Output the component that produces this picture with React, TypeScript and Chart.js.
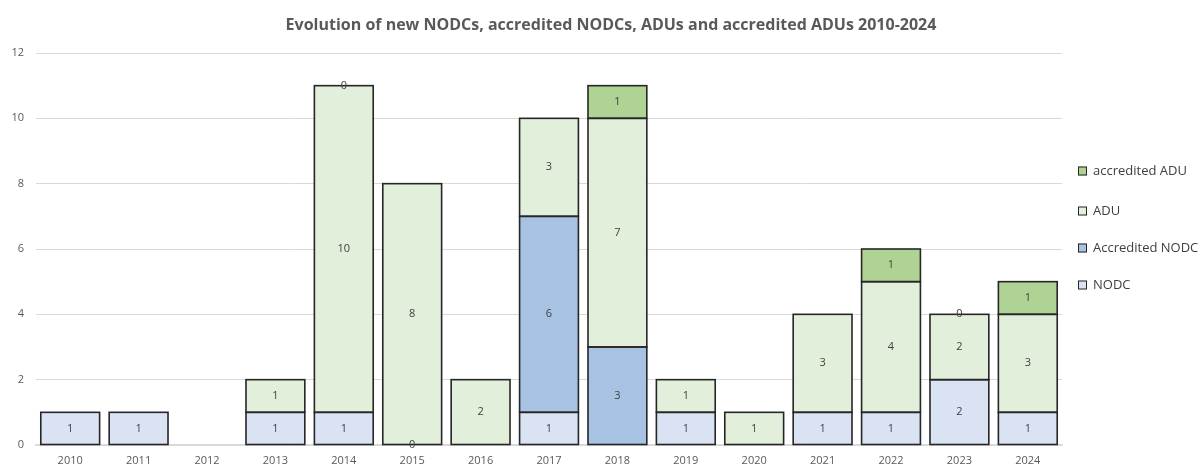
import React, { useEffect, useRef } from "react";
import { Chart, registerables } from "chart.js";

Chart.register(...registerables);

const years = ["2010","2011","2012","2013","2014","2015","2016","2017","2018","2019","2020","2021","2022","2023","2024"];
const nodc: (number | null)[] = [1, 1, null, 1, 1, 0, null, 1, null, 1, null, 1, 1, 2, 1];
const accreditedNodc: (number | null)[] = [null, null, null, null, null, null, null, 6, 3, null, null, null, null, null, null];
const adu: (number | null)[] = [null, null, null, 1, 10, 8, 2, 3, 7, 1, 1, 3, 4, 2, 3];
const accreditedAdu: (number | null)[] = [null, null, null, null, 0, null, null, null, 1, null, null, null, 1, 0, 1];
const yTicks = [0, 2, 4, 6, 8, 10, 12];
const titleText = "Evolution of new NODCs, accredited NODCs, ADUs and accredited ADUs 2010-2024";

const FONT = "'Open Sans', sans-serif";
const BORDER = "#262626";

const seriesDefs = [
  { label: "NODC", data: nodc, color: "#dae3f3" },
  { label: "Accredited NODC", data: accreditedNodc, color: "#a7c2e3" },
  { label: "ADU", data: adu, color: "#e2efda" },
  { label: "accredited ADU", data: accreditedAdu, color: "#afd295" },
];

const extrasPlugin = {
  id: "extras",
  afterDatasetsDraw(chart: any) {
    const ctx = chart.ctx;
    ctx.save();
    // outlines centred on segment edges
    ctx.strokeStyle = BORDER;
    ctx.lineWidth = 1.6;
    chart.data.datasets.forEach((ds: any, di: number) => {
      const meta = chart.getDatasetMeta(di);
      meta.data.forEach((el: any, i: number) => {
        const v = ds.data[i];
        if (!v) return;
        const left = el.x - el.width / 2;
        const top = Math.min(el.y, el.base);
        const h = Math.abs(el.base - el.y);
        ctx.strokeRect(left, top, el.width, h);
      });
    });
    ctx.font = `11px ${FONT}`;
    ctx.fillStyle = "#404040";
    ctx.textAlign = "center";
    ctx.textBaseline = "middle";
    chart.data.datasets.forEach((ds: any, di: number) => {
      const meta = chart.getDatasetMeta(di);
      meta.data.forEach((el: any, i: number) => {
        const v = ds.data[i];
        if (v === null || v === undefined) return;
        const y = (el.y + el.base) / 2;
        ctx.fillText(String(v), el.x, y);
      });
    });
    ctx.restore();
  },
  afterDraw(chart: any) {
    const ctx = chart.ctx;
    ctx.save();
    ctx.font = `bold 16px ${FONT}`;
    ctx.fillStyle = "#595959";
    ctx.textAlign = "center";
    ctx.textBaseline = "middle";
    ctx.fillText(titleText, 611, 25);
    const items = [...seriesDefs].reverse();
    const ys = [171, 211, 248, 285];
    ctx.font = `13px ${FONT}`;
    ctx.textAlign = "left";
    items.forEach((it, k) => {
      const y = ys[k];
      ctx.fillStyle = it.color;
      ctx.fillRect(1078, y - 4.5, 9, 9);
      ctx.strokeStyle = BORDER;
      ctx.lineWidth = 1;
      ctx.strokeRect(1078.5, y - 4, 8, 8);
      ctx.fillStyle = "#404040";
      ctx.fillText(it.label, 1093, y);
    });
    ctx.restore();
  },
};

export default function App() {
  const ref = useRef<HTMLCanvasElement | null>(null);
  useEffect(() => {
    if (!ref.current) return;
    const chart = new Chart(ref.current, {
      type: "bar",
      data: {
        labels: years,
        datasets: seriesDefs.map((s) => ({
          label: s.label,
          data: s.data as any,
          backgroundColor: s.color,
          borderWidth: 0,
          categoryPercentage: 1,
          barPercentage: 0.86,
        })),
      },
      options: {
        animation: false,
        responsive: false,
        maintainAspectRatio: false,
        layout: { padding: { top: 53, right: 138, left: 0, bottom: 0 } },
        plugins: {
          legend: { display: false },
          title: { display: false },
          tooltip: { enabled: false },
        },
        scales: {
          x: {
            stacked: true,
            grid: { display: false, drawTicks: false },
            border: { display: true, color: "#d9d9d9", width: 1.5 },
            ticks: { color: "#595959", font: { family: FONT, size: 11 }, padding: 9, maxRotation: 0 },
            afterFit: (s: any) => { s.height = 23; },
          },
          y: {
            stacked: true,
            min: 0,
            max: 12,
            afterBuildTicks: (s: any) => { s.ticks = yTicks.map((v) => ({ value: v })); },
            grid: { color: "#d9d9d9", lineWidth: 1, drawTicks: false },
            border: { display: false },
            ticks: { color: "#595959", font: { family: FONT, size: 11 }, padding: 12 },
            afterFit: (s: any) => { s.width = 36; },
          },
        },
      },
      plugins: [extrasPlugin],
    });
    return () => chart.destroy();
  }, []);
  return (
    <div style={{ position: "absolute", left: 0, top: 0, width: 1200, height: 468, background: "#fff" }}>
      <canvas ref={ref} width={1200} height={468} style={{ width: 1200, height: 468, display: "block" }} />
    </div>
  );
}
